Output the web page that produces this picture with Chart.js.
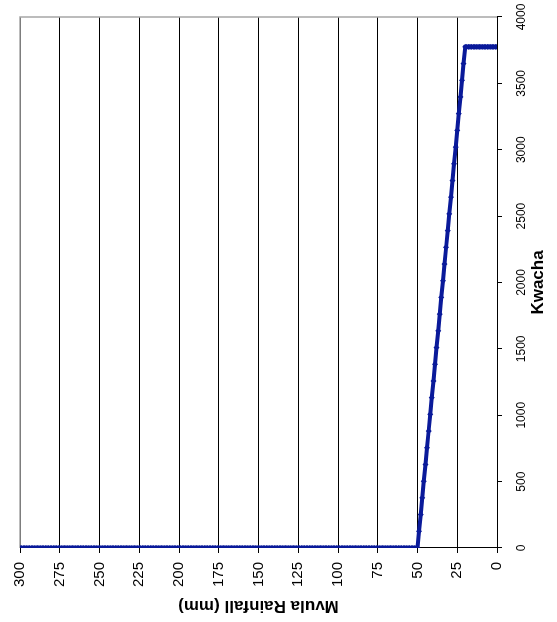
<!DOCTYPE html>
<html>
<head>
<meta charset="utf-8">
<script src="https://cdn.jsdelivr.net/npm/chart.js@4"></script>
<style>
  html, body { margin: 0; padding: 0; background: #fff; }
  #page { position: relative; width: 557px; height: 622px; overflow: hidden; }
  /* chart is drawn lying on its side, then turned a quarter left */
  #turn { position: absolute; left: 0; top: 0; width: 622px; height: 557px;
          transform-origin: 0 0; transform: translate(0, 622px) rotate(-90deg); }
</style>
</head>
<body>
<div id="page">
  <div id="turn"><canvas id="payout" width="622" height="557"></canvas></div>
</div>
<script>
// rainfall in mm, one point per mm
var rainfall = [
  0, 1, 2, 3, 4, 5, 6, 7, 8, 9, 10, 11, 12, 13, 14, 15, 16, 17, 18, 19, 20, 21, 22, 23, 24,
  25, 26, 27, 28, 29, 30, 31, 32, 33, 34, 35, 36, 37, 38, 39, 40, 41, 42, 43, 44, 45, 46, 47, 48, 49,
  50, 51, 52, 53, 54, 55, 56, 57, 58, 59, 60, 61, 62, 63, 64, 65, 66, 67, 68, 69, 70, 71, 72, 73, 74,
  75, 76, 77, 78, 79, 80, 81, 82, 83, 84, 85, 86, 87, 88, 89, 90, 91, 92, 93, 94, 95, 96, 97, 98, 99,
  100, 101, 102, 103, 104, 105, 106, 107, 108, 109, 110, 111, 112, 113, 114, 115, 116, 117, 118, 119, 120, 121, 122, 123, 124,
  125, 126, 127, 128, 129, 130, 131, 132, 133, 134, 135, 136, 137, 138, 139, 140, 141, 142, 143, 144, 145, 146, 147, 148, 149,
  150, 151, 152, 153, 154, 155, 156, 157, 158, 159, 160, 161, 162, 163, 164, 165, 166, 167, 168, 169, 170, 171, 172, 173, 174,
  175, 176, 177, 178, 179, 180, 181, 182, 183, 184, 185, 186, 187, 188, 189, 190, 191, 192, 193, 194, 195, 196, 197, 198, 199,
  200, 201, 202, 203, 204, 205, 206, 207, 208, 209, 210, 211, 212, 213, 214, 215, 216, 217, 218, 219, 220, 221, 222, 223, 224,
  225, 226, 227, 228, 229, 230, 231, 232, 233, 234, 235, 236, 237, 238, 239, 240, 241, 242, 243, 244, 245, 246, 247, 248, 249,
  250, 251, 252, 253, 254, 255, 256, 257, 258, 259, 260, 261, 262, 263, 264, 265, 266, 267, 268, 269, 270, 271, 272, 273, 274,
  275, 276, 277, 278, 279, 280, 281, 282, 283, 284, 285, 286, 287, 288, 289, 290, 291, 292, 293, 294, 295, 296, 297, 298, 299,
  300
];

// payout in Kwacha for each rainfall value above
var kwacha = [
  3775, 3775, 3775, 3775, 3775, 3775, 3775, 3775, 3775, 3775, 3775, 3775, 3775, 3775, 3775, 3775, 3775, 3775, 3775, 3775, 3775, 3649, 3523, 3398, 3272,
  3146, 3020, 2894, 2768, 2643, 2517, 2391, 2265, 2139, 2013, 1888, 1762, 1636, 1510, 1384, 1258, 1133, 1007, 881, 755, 629, 503, 378, 252, 126,
  0, 0, 0, 0, 0, 0, 0, 0, 0, 0, 0, 0, 0, 0, 0, 0, 0, 0, 0, 0, 0, 0, 0, 0, 0,
  0, 0, 0, 0, 0, 0, 0, 0, 0, 0, 0, 0, 0, 0, 0, 0, 0, 0, 0, 0, 0, 0, 0, 0, 0,
  0, 0, 0, 0, 0, 0, 0, 0, 0, 0, 0, 0, 0, 0, 0, 0, 0, 0, 0, 0, 0, 0, 0, 0, 0,
  0, 0, 0, 0, 0, 0, 0, 0, 0, 0, 0, 0, 0, 0, 0, 0, 0, 0, 0, 0, 0, 0, 0, 0, 0,
  0, 0, 0, 0, 0, 0, 0, 0, 0, 0, 0, 0, 0, 0, 0, 0, 0, 0, 0, 0, 0, 0, 0, 0, 0,
  0, 0, 0, 0, 0, 0, 0, 0, 0, 0, 0, 0, 0, 0, 0, 0, 0, 0, 0, 0, 0, 0, 0, 0, 0,
  0, 0, 0, 0, 0, 0, 0, 0, 0, 0, 0, 0, 0, 0, 0, 0, 0, 0, 0, 0, 0, 0, 0, 0, 0,
  0, 0, 0, 0, 0, 0, 0, 0, 0, 0, 0, 0, 0, 0, 0, 0, 0, 0, 0, 0, 0, 0, 0, 0, 0,
  0, 0, 0, 0, 0, 0, 0, 0, 0, 0, 0, 0, 0, 0, 0, 0, 0, 0, 0, 0, 0, 0, 0, 0, 0,
  0, 0, 0, 0, 0, 0, 0, 0, 0, 0, 0, 0, 0, 0, 0, 0, 0, 0, 0, 0, 0, 0, 0, 0, 0,
  0
];

var rainfallTicks = [0, 25, 50, 75, 100, 125, 150, 175, 200, 225, 250, 275, 300];
var kwachaTicks = [0, 500, 1000, 1500, 2000, 2500, 3000, 3500, 4000];

var points = rainfall.map(function (r, i) {
  return { x: kwacha[i], y: r };
});

// gray frame on the far sides of the plot area
var plotFrame = {
  id: "plotFrame",
  beforeDatasetsDraw: function (chart) {
    var a = chart.chartArea, c = chart.ctx;
    c.save();
    c.strokeStyle = "#a6a6a6";
    c.lineWidth = 1.5;
    c.beginPath();
    c.moveTo(a.left, a.top);
    c.lineTo(a.right, a.top);
    c.lineTo(a.right, a.bottom);
    c.stroke();
    c.restore();
  }
};

var font = "'Liberation Sans', Arial, sans-serif";

new Chart(document.getElementById("payout").getContext("2d"), {
  type: "scatter",
  data: {
    datasets: [{
      label: "Payout",
      data: points,
      showLine: true,
      borderColor: "#0a1a9a",
      backgroundColor: "#0a1a9a",
      borderWidth: 4,
      pointStyle: "rectRot",
      pointRadius: 3,
      pointBorderWidth: 0,
      tension: 0
    }]
  },
  options: {
    responsive: false,
    animation: false,
    devicePixelRatio: 1,
    layout: { autoPadding: false, padding: { top: 20, right: 17, left: 0, bottom: 0 } },
    plugins: { legend: { display: false }, tooltip: { enabled: false } },
    scales: {
      x: {
        type: "linear",
        min: 0,
        max: 4000,
        afterBuildTicks: function (s) { s.ticks = kwachaTicks.map(function (v) { return { value: v }; }); },
        afterFit: function (s) { s.height = 60; s.paddingLeft = 0; s.paddingRight = 0; },
        grid: { drawOnChartArea: false, drawTicks: true, tickLength: 5, color: "#000" },
        border: { color: "#000", width: 1 },
        ticks: {
          color: "#000", font: { family: font, size: 12 }, padding: 12, maxRotation: 0,
          callback: function (v) { return String(v); }
        },
        title: { display: true, text: "Kwacha", color: "#000", font: { family: font, size: 17, weight: "bold" }, padding: { top: 0, bottom: 8 } }
      },
      y: {
        type: "linear",
        min: 0,
        max: 300,
        afterBuildTicks: function (s) { s.ticks = rainfallTicks.map(function (v) { return { value: v }; }); },
        afterFit: function (s) { s.width = 74; s.paddingTop = 0; s.paddingBottom = 0; },
        grid: { color: "#000", lineWidth: 1, tickLength: 5 },
        border: { color: "#000", width: 1 },
        ticks: { color: "#000", font: { family: font, size: 15 }, padding: 9 },
        title: { display: true, text: "Mvula Rainfall (mm)", color: "#000", font: { family: font, size: 17, weight: "bold" }, padding: { top: 6, bottom: 0 } }
      }
    }
  },
  plugins: [plotFrame]
});
</script>
</body>
</html>
